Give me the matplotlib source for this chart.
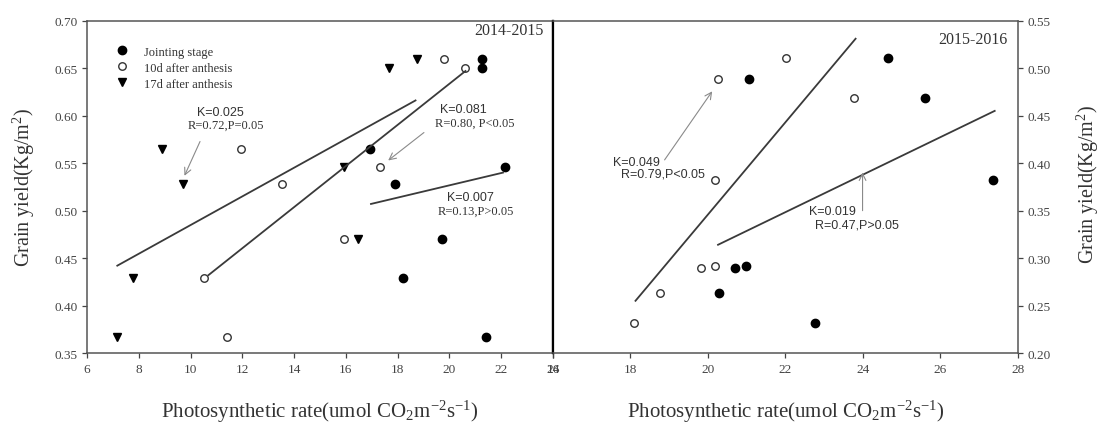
import matplotlib.pyplot as plt

plt.rcParams['font.family'] = ['Liberation Serif', 'DejaVu Serif']
plt.rcParams['mathtext.fontset'] = 'custom'
plt.rcParams['mathtext.rm'] = 'Liberation Serif'
plt.rcParams['mathtext.it'] = 'Liberation Serif:italic'

# ---- 2014-2015 (left panel) ----
yield_14 = [0.367, 0.429, 0.470, 0.528, 0.546, 0.565, 0.650, 0.660]
pn_joint_14 = [21.41, 18.20, 19.72, 17.90, 22.14, 16.94, 21.24, 21.24]
yield_joint_14 = [0.367, 0.429, 0.470, 0.528, 0.546, 0.565, 0.650, 0.660]
pn_10d_14 = [11.42, 10.52, 15.93, 13.54, 17.31, 11.93, 20.62, 19.79]
pn_17d_14 = [7.14, 7.77, 16.48, 9.72, 15.93, 8.90, 17.66, 18.76]

# fitted lines, end points
fit_17d_14 = ([7.17, 18.69], [0.442, 0.616])
fit_10d_14 = ([10.69, 20.62], [0.432, 0.647])
fit_joint_14 = ([16.97, 22.07], [0.507, 0.540])

# ---- 2015-2016 (right panel) ----
yield_15 = [0.232, 0.263, 0.290, 0.292, 0.382, 0.469, 0.489, 0.511]
pn_joint_15 = [22.75, 20.28, 20.71, 20.98, 27.35, 25.59, 21.05, 24.64]
pn_10d_15 = [18.10, 18.77, 19.82, 20.19, 20.19, 23.78, 20.26, 22.01]

fit_10d_15 = ([18.13, 23.81], [0.255, 0.531])
fit_joint_15 = ([20.26, 27.40], [0.314, 0.455])

labels = ['Jointing stage', '10d after anthesis', '17d after anthesis']

fig = plt.figure(figsize=(11, 4.31), dpi=100)
ax1 = fig.add_axes([0.0791, 0.1786, 0.4236, 0.7711])
ax2 = fig.add_axes([0.5027, 0.1786, 0.4227, 0.7711])

line_c = '#3a3a3a'
arrow_c = '#8a8a8a'
tick_c = '#444444'
txt_c = '#333333'

ax1.plot(pn_joint_14, yield_joint_14, 'o', color='black', ms=6, label=labels[0])
ax1.plot(pn_10d_14, yield_14, 'o', mfc='white', mec='#333333', mew=1.0, ms=5.4, label=labels[1])
ax1.plot(pn_17d_14, yield_14, 'v', color='black', ms=6.2, label=labels[2])
for xs, ys in (fit_17d_14, fit_10d_14, fit_joint_14):
    ax1.plot(xs, ys, '-', color=line_c, lw=1.3)

ax1.set_xlim(6, 24)
ax1.set_ylim(0.35, 0.70)
ax1.set_xticks(range(6, 25, 2))
ax1.set_yticks([0.35, 0.40, 0.45, 0.50, 0.55, 0.60, 0.65, 0.70])
ax1.set_yticklabels(['%.2f' % v for v in ax1.get_yticks()])

leg = ax1.legend(loc='upper left', bbox_to_anchor=(0.05, 0.94), frameon=False,
                 fontsize=9, handletextpad=1.3, labelspacing=0.32,
                 borderaxespad=0, handlelength=1.0)
for t in leg.get_texts():
    t.set_color(txt_c)

sans = ['Liberation Sans', 'DejaVu Sans']
akw = dict(arrowstyle='->', color=arrow_c, lw=0.8, mutation_scale=12)
fs_a = 9

ax1.text(11.17, 0.6035, 'K=0.025', fontsize=fs_a, family=sans, ha='center', va='center', color=txt_c)
ax1.text(11.38, 0.590, 'R=0.72,P=0.05', fontsize=fs_a, ha='center', va='center', color=txt_c)
ax1.annotate('', xy=(9.72, 0.534), xytext=(10.41, 0.5754), arrowprops=akw)

ax1.text(20.55, 0.607, 'K=0.081', fontsize=fs_a, family=sans, ha='center', va='center', color=txt_c)
ax1.text(20.97, 0.593, 'R=0.80, P<0.05', fontsize=fs_a, ha='center', va='center', color=txt_c)
ax1.annotate('', xy=(17.55, 0.551), xytext=(19.1, 0.584), arrowprops=akw)

ax1.text(20.83, 0.514, 'K=0.007', fontsize=fs_a, family=sans, ha='center', va='center', color=txt_c)
ax1.text(21.03, 0.500, 'R=0.13,P>0.05', fontsize=fs_a, ha='center', va='center', color=txt_c)

ax1.text(0.98, 0.972, '2014-2015', transform=ax1.transAxes, fontsize=11.5,
         ha='right', va='center', color=txt_c)

xlab = r'Photosynthetic rate(umol CO$_\mathregular{2}$m$^\mathregular{-2}$s$^\mathregular{-1}$)'
ylab = r'Grain yield(Kg/m$^\mathregular{2}$)'

ax1.set_xlabel(xlab, fontsize=15, color=txt_c)
ax1.xaxis.set_label_coords(0.5, -0.135)
ax1.set_ylabel(ylab, fontsize=14.5, color=txt_c)
ax1.yaxis.set_label_coords(-0.107, 0.5)
ax1.tick_params(right=False, top=False)

# right panel
ax2.plot(pn_joint_15, yield_15, 'o', color='black', ms=6)
ax2.plot(pn_10d_15, yield_15, 'o', mfc='white', mec='#333333', mew=1.0, ms=5.4)
for xs, ys in (fit_10d_15, fit_joint_15):
    ax2.plot(xs, ys, '-', color=line_c, lw=1.3)

ax2.set_xlim(16, 28)
ax2.set_ylim(0.20, 0.55)
ax2.set_xticks(range(16, 29, 2))
ax2.set_yticks([0.20, 0.25, 0.30, 0.35, 0.40, 0.45, 0.50, 0.55])
ax2.set_yticklabels(['%.2f' % v for v in ax2.get_yticks()])
ax2.yaxis.tick_right()
ax2.yaxis.set_label_position('right')
ax2.tick_params(left=False, top=False)

ax2.text(17.55, 0.401, 'K=0.049', fontsize=fs_a, family=sans, ha='left', va='center', color=txt_c)
ax2.text(17.76, 0.389, 'R=0.79,P<0.05', fontsize=fs_a, family=sans, ha='left', va='center', color=txt_c)
ax2.annotate('', xy=(20.15, 0.478), xytext=(18.84, 0.401), arrowprops=akw)

ax2.text(22.61, 0.350, 'K=0.019', fontsize=fs_a, family=sans, ha='left', va='center', color=txt_c)
ax2.text(22.75, 0.335, 'R=0.47,P>0.05', fontsize=fs_a, family=sans, ha='left', va='center', color=txt_c)
ax2.annotate('', xy=(23.99, 0.393), xytext=(23.99, 0.347), arrowprops=akw)

ax2.text(0.977, 0.946, '2015-2016', transform=ax2.transAxes, fontsize=11.5,
         ha='right', va='center', color=txt_c)

ax2.set_xlabel(xlab, fontsize=15, color=txt_c)
ax2.xaxis.set_label_coords(0.5, -0.135)
ax2.set_ylabel(ylab, fontsize=14.5, color=txt_c, rotation=90)
ax2.yaxis.set_label_coords(1.123, 0.51)

for ax in (ax1, ax2):
    ax.tick_params(direction='out', length=3.5, width=0.9, colors=tick_c, labelsize=9.5,
                   labelcolor='#444444')
    for s in ax.spines.values():
        s.set_color('#555555')
        s.set_linewidth(1.1)
ax1.spines['right'].set_color('black')
ax1.spines['right'].set_linewidth(1.6)
ax2.spines['left'].set_color('black')
ax2.spines['left'].set_linewidth(1.6)

fig.savefig('out.png', dpi=100)
